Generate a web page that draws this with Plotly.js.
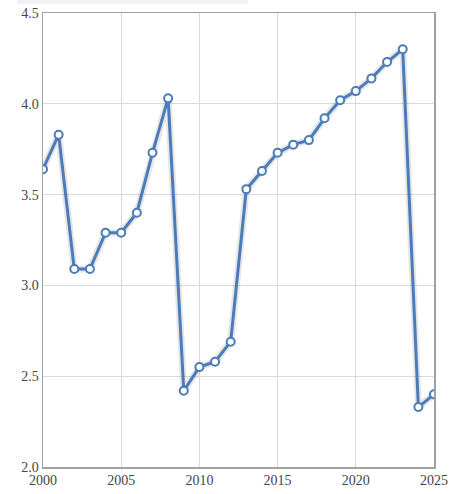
<!DOCTYPE html>
<html>
<head>
<meta charset="utf-8">
<script src="https://cdn.plot.ly/plotly-3.0.1.min.js"></script>
<style>html,body{margin:0;padding:0;background:#fff;}#chart{width:465px;height:494px;}</style>
</head>
<body>
<div id="chart"></div>
<script>
const years = [2000,2001,2002,2003,2004,2005,2006,2007,2008,2009,2010,2011,2012,2013,2014,2015,2016,2017,2018,2019,2020,2021,2022,2023,2024,2025];
const values = [3.64,3.83,3.09,3.09,3.29,3.29,3.40,3.73,4.03,2.42,2.55,2.58,2.69,3.53,3.63,3.73,3.775,3.80,3.92,4.02,4.07,4.14,4.23,4.30,2.33,2.40];
const xTicks = [2000,2005,2010,2015,2020,2025];
const yTicks = [2.0,2.5,3.0,3.5,4.0,4.5];

const lineColor = '#4a7bbb';
const traces = [
  {x: years, y: values, mode: 'lines', type: 'scatter', hoverinfo: 'skip',
   line: {color: 'rgba(60,60,60,0.13)', width: 7}, showlegend: false},
  {x: years, y: values, mode: 'lines+markers', type: 'scatter',
   line: {color: lineColor, width: 3},
   marker: {size: 8, color: '#ffffff', line: {color: lineColor, width: 2}},
   showlegend: false}
];
const axisFont = {family: 'Liberation Serif', size: 14, color: '#444'};
const layout = {
  width: 465, height: 494,
  margin: {l: 43, r: 31, t: 13, b: 27},
  paper_bgcolor: '#fff', plot_bgcolor: '#fff',
  font: {family: 'Liberation Serif', size: 14, color: '#444'},
  showlegend: false,
  xaxis: {range: [2000, 2025], tickvals: xTicks, ticktext: xTicks.map(String),
          showgrid: true, gridcolor: '#d9d9d9', gridwidth: 1,
          showline: true, linecolor: '#a0a0a0', linewidth: 1.5, mirror: true,
          zeroline: false, ticks: '', tickfont: axisFont},
  yaxis: {range: [2.0, 4.5], tickvals: yTicks, ticktext: yTicks.map(v => v.toFixed(1)),
          showgrid: true, gridcolor: '#d9d9d9', gridwidth: 1,
          showline: true, linecolor: '#a0a0a0', linewidth: 1.5, mirror: true,
          zeroline: false, ticks: '', tickfont: axisFont},
  shapes: [{type: 'rect', xref: 'paper', yref: 'paper', x0: -0.066, x1: 0.524, y0: 1.0198, y1: 1.03,
            fillcolor: '#f2f2f2', line: {width: 0}, layer: 'below'}]
};
Plotly.newPlot('chart', traces, layout, {displayModeBar: false, staticPlot: true});
</script>
</body>
</html>
